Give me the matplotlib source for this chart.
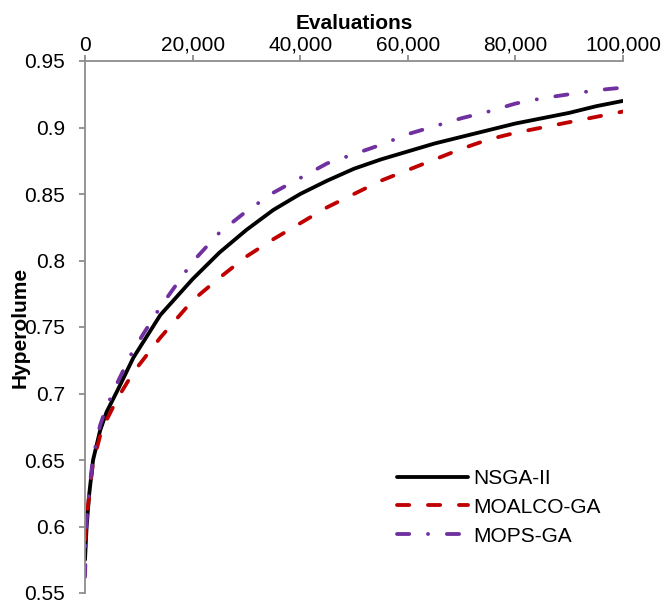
import matplotlib
matplotlib.use("Agg")
import matplotlib.pyplot as plt
from matplotlib.ticker import FuncFormatter

plt.rcParams['font.family'] = ['Liberation Sans', 'DejaVu Sans']
plt.rcParams['lines.scale_dashes'] = False

evaluations = [0, 300, 800, 1500, 2800, 4000, 6000, 9000, 14000, 20000, 25000,
               30000, 35000, 40000, 45000, 50000, 55000, 60000, 65000, 70000,
               75000, 80000, 85000, 90000, 95000, 100000]

nsga2 = [0.575, 0.600, 0.625, 0.650, 0.672, 0.686, 0.702, 0.727, 0.759, 0.786, 0.806,
         0.823, 0.838, 0.850, 0.860, 0.869, 0.876, 0.882, 0.888, 0.893,
         0.898, 0.903, 0.907, 0.911, 0.916, 0.920]

moalco_ga = [0.590, 0.605, 0.625, 0.648, 0.668, 0.680, 0.696, 0.716, 0.742, 0.770, 0.787,
             0.803, 0.816, 0.828, 0.840, 0.850, 0.860, 0.868, 0.876, 0.884,
             0.891, 0.896, 0.900, 0.904, 0.908, 0.912]

mops_ga = [0.562, 0.605, 0.628, 0.652, 0.676, 0.690, 0.708, 0.733, 0.765, 0.799, 0.821,
           0.837, 0.851, 0.862, 0.873, 0.880, 0.887, 0.895, 0.901, 0.907,
           0.912, 0.918, 0.922, 0.925, 0.928, 0.930]

series_names = ["NSGA-II", "MOALCO-GA", "MOPS-GA"]

x_ticks = [0, 20000, 40000, 60000, 80000, 100000]
y_ticks = [0.55, 0.6, 0.65, 0.7, 0.75, 0.8, 0.85, 0.9, 0.95]

fig = plt.figure(figsize=(6.64, 6.10), dpi=100)
ax = fig.add_axes([85 / 664, 1 - 593 / 610, 538 / 664, 532 / 610])

lw = 2.75
ax.plot(evaluations, nsga2, color="black", lw=lw, solid_capstyle="round",
        solid_joinstyle="round", label=series_names[0])
l2, = ax.plot(evaluations, moalco_ga, color="#C00000", lw=lw,
              dash_capstyle="round", label=series_names[1])
l2.set_dashes([8.8, 13.5])
l3, = ax.plot(evaluations, mops_ga, color="#7030A0", lw=lw,
              dash_capstyle="round", label=series_names[2])
l3.set_dashes([8.8, 13.5, 0.1, 13.5])

ax.set_xlim(0, 100000)
ax.set_ylim(0.55, 0.95)
ax.set_xticks(x_ticks)
ax.set_yticks(y_ticks)
ax.xaxis.set_major_formatter(FuncFormatter(lambda v, p: f"{int(v):,}"))
ax.yaxis.set_major_formatter(FuncFormatter(lambda v, p: f"{v:g}"))

ax.xaxis.tick_top()
ax.xaxis.set_label_position("top")
for side in ("right", "bottom"):
    ax.spines[side].set_visible(False)
for side in ("left", "top"):
    ax.spines[side].set_color("#8C8C8C")
    ax.spines[side].set_linewidth(1.3)
ax.tick_params(axis="both", which="major", direction="out", length=4.5,
               width=1.3, color="#8C8C8C", labelsize=15, labelcolor="black")
ax.tick_params(axis="x", pad=0)
ax.tick_params(axis="y", pad=10)

ax.set_xlabel("Evaluations", fontsize=15, fontweight="bold")
ax.xaxis.set_label_coords(0.5, 1.06)
ax.set_ylabel("Hyperolume", fontsize=15, fontweight="bold")
ax.yaxis.set_label_coords(-0.102, 0.5)

leg = ax.legend(loc="upper left", bbox_to_anchor=(397 / 664, 1 - 469 / 610),
                bbox_transform=fig.transFigure, frameon=False, fontsize=15,
                handlelength=3.4, handletextpad=0.25, labelspacing=0.47,
                borderpad=0, borderaxespad=0)

fig.savefig("out.png", dpi=100)
